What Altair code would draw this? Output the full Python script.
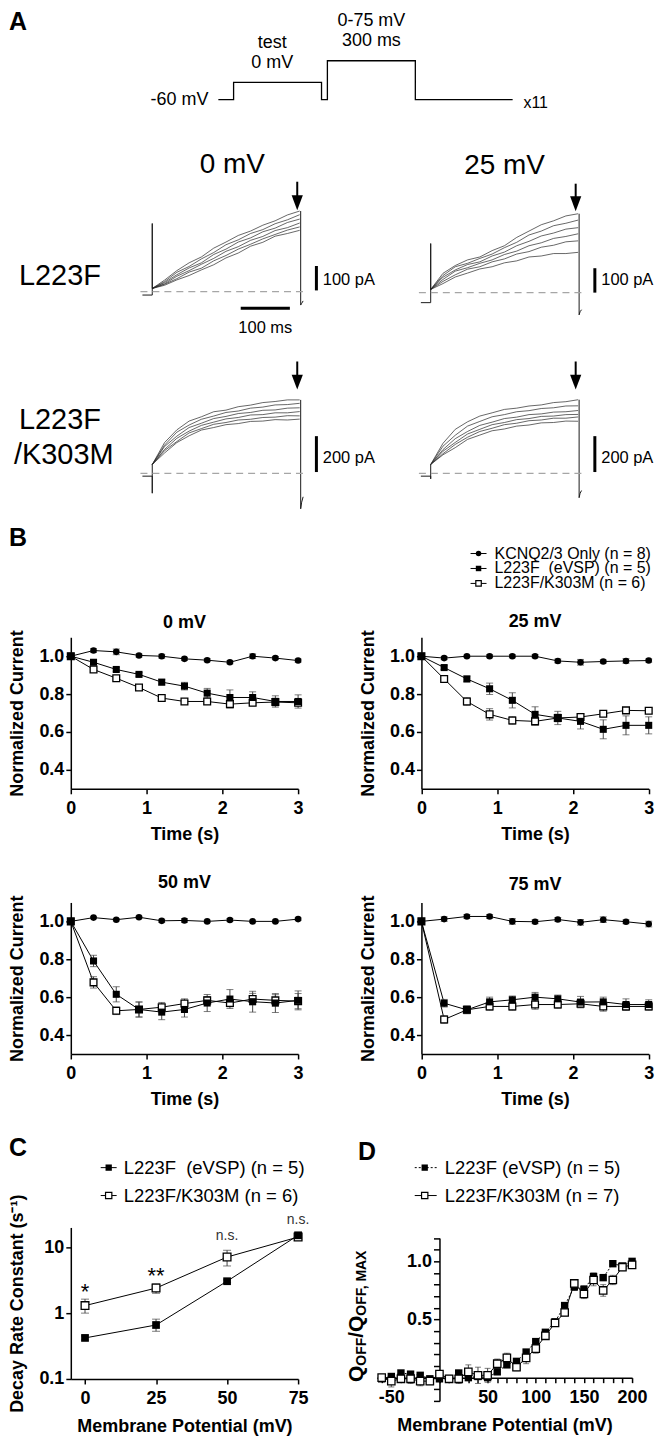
import altair as alt
import pandas as pd

FONT = "Liberation Sans"

# ---------------- Panel A: voltage protocol (schematic) ----------------
prot_time_ms = [0, 52, 52, 352, 352, 372, 372, 672, 672, 1004]
prot_mv = [-60, -60, 0, 0, -60, -60, 75, 75, -60, -60]

# ---------------- Panel A: current traces (pA) ----------------
trace_time_ms = [0, 25, 50, 75, 100, 125, 150, 175, 200, 225, 250, 275, 300]
traces_L223F_0mV = [
    [13, 47, 86, 118, 142, 178, 203, 230, 248, 272, 290, 314, 330],
    [13, 41, 79, 103, 134, 160, 192, 212, 238, 254, 278, 294, 315],
    [13, 37, 69, 97, 118, 152, 174, 203, 220, 245, 260, 283, 297],
    [13, 32, 63, 86, 112, 136, 165, 184, 210, 226, 250, 262, 281],
    [13, 30, 53, 80, 96, 126, 148, 174, 194, 216, 234, 252, 265],
    [13, 26, 48, 66, 89, 110, 138, 158, 186, 202, 227, 238, 251],
]
traces_L223F_25mV = [
    [13, 79, 111, 134, 146, 172, 192, 226, 252, 278, 294, 314, 323],
    [13, 70, 106, 120, 140, 158, 184, 206, 236, 252, 274, 284, 297],
    [13, 63, 93, 115, 126, 150, 166, 192, 210, 232, 244, 260, 266],
    [13, 54, 88, 102, 120, 134, 156, 170, 192, 204, 222, 230, 241],
    [13, 46, 73, 96, 106, 126, 138, 158, 168, 186, 194, 208, 212],
    [13, 37, 64, 80, 97, 106, 122, 130, 146, 150, 160, 160, 165],
]
traces_K303M_0mV = [
    [50, 172, 243, 292, 316, 344, 353, 372, 381, 395, 401, 410, 410],
    [50, 158, 230, 270, 302, 320, 340, 348, 364, 370, 382, 384, 391],
    [50, 150, 208, 256, 280, 306, 318, 334, 340, 352, 354, 364, 366],
    [50, 134, 196, 236, 268, 286, 304, 312, 326, 328, 338, 338, 345],
    [50, 127, 178, 226, 250, 274, 284, 298, 302, 312, 314, 322, 321],
    [50, 114, 172, 210, 242, 256, 272, 278, 290, 292, 300, 298, 303],
]
traces_K303M_25mV = [
    [50, 168, 246, 288, 320, 338, 357, 364, 376, 382, 395, 400, 411],
    [50, 152, 213, 264, 290, 316, 328, 344, 350, 362, 366, 376, 377],
    [50, 133, 194, 234, 268, 286, 306, 314, 328, 332, 342, 344, 351],
    [50, 124, 173, 220, 246, 272, 284, 300, 306, 318, 320, 328, 329],
    [50, 110, 162, 202, 234, 252, 272, 280, 294, 298, 308, 308, 315],
    [50, 104, 144, 190, 214, 238, 248, 264, 270, 282, 284, 292, 291],
]
# holding segment + capacitive transient, and tail current (t in ms, pA)
pre_t = [-20, 0, 0, 0]
pre_L0 = [-14, -14, 279, 13]
pre_L25 = [-41, -41, 201, 13]
pre_K0 = [-15, -15, -110, 50]
pre_K25 = [-15, -15, -30, 50]
tail_t = [302, 302, 304, 307]
tail_L0 = [330, -55, -48, -38]
tail_L25 = [323, -91, -78, -70]
tail_K0 = [410, -197, -160, -130]
tail_K25 = [411, -135, -110, -95]

# ---------------- Panel B: normalized current vs time ----------------
time_s = [0, 0.3, 0.6, 0.9, 1.2, 1.5, 1.8, 2.1, 2.4, 2.7, 3.0]
kcnq_0 = [1.0, 1.03, 1.023, 1.004, 1.0, 0.986, 0.979, 0.968, 1.0, 0.99, 0.977]
kcnq_0_err = [0, 0.01, 0.015, 0.008, 0.01, 0.008, 0.008, 0.008, 0.012, 0.008, 0.008]
l223f_0 = [1.0, 0.968, 0.93, 0.904, 0.863, 0.842, 0.805, 0.782, 0.782, 0.761, 0.761]
l223f_0_err = [0, 0.008, 0.01, 0.01, 0.015, 0.02, 0.025, 0.04, 0.03, 0.03, 0.035]
k303m_0 = [1.0, 0.93, 0.884, 0.835, 0.779, 0.761, 0.761, 0.747, 0.754, 0.758, 0.754]
k303m_0_err = [0, 0.008, 0.01, 0.012, 0.01, 0.01, 0.015, 0.02, 0.015, 0.02, 0.015]

kcnq_25 = [1.0, 0.99, 1.0, 1.0, 1.0, 1.0, 0.975, 0.968, 0.972, 0.975, 0.977]
kcnq_25_err = [0, 0.008, 0.005, 0.008, 0.008, 0.008, 0.01, 0.015, 0.008, 0.012, 0.008]
l223f_25 = [1.0, 0.94, 0.88, 0.828, 0.767, 0.693, 0.674, 0.656, 0.614, 0.635, 0.635]
l223f_25_err = [0, 0.01, 0.015, 0.03, 0.04, 0.04, 0.035, 0.04, 0.05, 0.05, 0.045]
k303m_25 = [1.0, 0.88, 0.761, 0.693, 0.661, 0.656, 0.674, 0.679, 0.696, 0.714, 0.712]
k303m_25_err = [0, 0.01, 0.02, 0.03, 0.02, 0.02, 0.02, 0.015, 0.015, 0.015, 0.015]

kcnq_50 = [1.0, 1.02, 1.009, 1.022, 1.003, 1.005, 1.0, 1.007, 1.0, 1.0, 1.012]
kcnq_50_err = [0, 0.005, 0.006, 0.005, 0.008, 0.01, 0.006, 0.008, 0.006, 0.006, 0.006]
l223f_50 = [1.0, 0.791, 0.615, 0.535, 0.521, 0.535, 0.569, 0.590, 0.576, 0.569, 0.583]
l223f_50_err = [0, 0.03, 0.04, 0.04, 0.04, 0.04, 0.045, 0.05, 0.055, 0.05, 0.05]
k303m_50 = [1.0, 0.678, 0.528, 0.535, 0.547, 0.566, 0.583, 0.569, 0.590, 0.583, 0.579]
k303m_50_err = [0, 0.03, 0.02, 0.04, 0.025, 0.025, 0.02, 0.02, 0.03, 0.03, 0.04]

kcnq_75 = [1.0, 1.012, 1.026, 1.026, 1.0, 0.998, 1.01, 0.995, 1.009, 0.998, 0.986]
kcnq_75_err = [0, 0.012, 0.01, 0.01, 0.015, 0.01, 0.01, 0.015, 0.015, 0.01, 0.015]
l223f_75 = [1.0, 0.568, 0.533, 0.575, 0.586, 0.6, 0.591, 0.574, 0.575, 0.561, 0.561]
l223f_75_err = [0, 0.02, 0.02, 0.025, 0.02, 0.025, 0.02, 0.03, 0.025, 0.03, 0.025]
k303m_75 = [1.0, 0.482, 0.533, 0.551, 0.551, 0.561, 0.561, 0.565, 0.551, 0.551, 0.551]
k303m_75_err = [0, 0.02, 0.02, 0.02, 0.02, 0.025, 0.02, 0.02, 0.025, 0.02, 0.02]

# ---------------- Panel C: decay rate constant ----------------
c_mv = [0, 25, 50, 75]
c_l223f = [0.42, 0.66, 3.05, 15.2]
c_l223f_lo = [0.39, 0.53, 2.9, 14.0]
c_l223f_hi = [0.45, 0.81, 3.2, 16.5]
c_k303m = [1.3, 2.4, 7.1, 14.3]
c_k303m_lo = [1.0, 2.0, 5.2, 13.3]
c_k303m_hi = [1.63, 2.78, 9.0, 15.3]
c_sig_label = ["*", "**", "n.s.", "n.s."]
c_sig_y = [2.1, 3.6, 14.7, 25.7]

# ---------------- Panel D: Q-V ----------------
d_mv = [-60, -50, -40, -30, -20, -10, 0, 10, 20, 30, 40, 50, 60, 70, 80, 90,
        100, 110, 120, 130, 140, 150, 160, 170, 180, 190, 200]
d_l223f = [-0.01, 0.01, 0.04, 0.03, 0.02, -0.01, -0.01, -0.01, 0.04, 0.0, 0.01, 0.0,
           0.05, 0.11, 0.14, 0.22, 0.31, 0.39, 0.48, 0.62, 0.78, 0.76, 0.87, 0.86, 0.98, 0.96, 1.0]
d_l223f_err = [0.01, 0.02, 0.02, 0.02, 0.02, 0.02, 0.02, 0.02, 0.02, 0.02, 0.02, 0.02, 0.02,
               0.02, 0.02, 0.02, 0.02, 0.02, 0.02, 0.02, 0.03, 0.03, 0.03, 0.02, 0.02, 0.02, 0.01]
d_k303m = [0.0, -0.03, -0.01, -0.01, -0.03, -0.03, 0.03, -0.01, -0.01, 0.05, 0.02, 0.02,
           0.12, 0.17, 0.09, 0.17, 0.25, 0.36, 0.47, 0.56, 0.81, 0.72, 0.84, 0.75, 0.84, 0.95, 0.97]
d_k303m_err = [0.02, 0.05, 0.03, 0.04, 0.04, 0.03, 0.03, 0.03, 0.04, 0.06, 0.07, 0.06, 0.04,
               0.04, 0.03, 0.05, 0.04, 0.03, 0.03, 0.03, 0.03, 0.04, 0.05, 0.05, 0.04, 0.03, 0.02]
d_x_ticks = [-60, -50, -40, -30, -20, -10, 0, 10, 20, 30, 40, 50, 60, 70, 80, 90, 100,
             110, 120, 130, 140, 150, 160, 170, 180, 190, 200]
d_y_ticks = [-0.2, -0.1, 0.0, 0.1, 0.2, 0.3, 0.4, 0.5, 0.6, 0.7, 0.8, 0.9, 1.0, 1.1, 1.2]

W, H = 647, 1428
ARROW = "M-0.75,-1L0.75,-1L0,1Z"


def dummy():
    return pd.DataFrame({"_": [0]})


def lin(domain, rng, **kw):
    return alt.Scale(domain=domain, range=rng, nice=False, zero=False, **kw)


def T(text, x, y, size, weight="normal", align="left", baseline="middle", angle=None, color="black"):
    props = dict(text=text, fontSize=size, fontWeight=weight, align=align,
                 baseline=baseline, color=color, font=FONT)
    if angle is not None:
        props["angle"] = angle
    return alt.Chart(dummy()).mark_text(**props).encode(x=alt.value(x), y=alt.value(y))


def legend_row(x1, x2, xm, y, shape, filled, xt, label, fs, size=40, dash=None):
    rp = dict(color="black", strokeWidth=1)
    if dash:
        rp["strokeDash"] = dash
    r = alt.Chart(dummy()).mark_rule(**rp).encode(x=alt.value(x1), x2=alt.value(x2), y=alt.value(y))
    if filled:
        p = alt.Chart(dummy()).mark_point(shape=shape, filled=True, color="black", size=size, opacity=1)
    else:
        p = alt.Chart(dummy()).mark_point(shape=shape, filled=True, fill="white", stroke="black",
                                          strokeWidth=1.2, size=size, opacity=1)
    p = p.encode(x=alt.value(xm), y=alt.value(y))
    return [r, p, T(label, xt, y, fs)]


# ================= Panel A: protocol =================
prot_df = pd.DataFrame({"t": prot_time_ms, "v": prot_mv, "k": list(range(len(prot_time_ms)))})
protocol = alt.Chart(prot_df).mark_line(color="black", strokeWidth=1.3).encode(
    x=alt.X("t:Q", scale=lin([0, 1004], [210, 505.2]), axis=None),
    y=alt.Y("v:Q", scale=lin([-60, 75], [87.7, 48.7]), axis=None),
    order="k:Q")
protocol_text = [
    T("A", 0, 10, 25, "bold"),
    T("-60 mV", 200, 88, 18, align="right"),
    T("test", 264, 30.5, 18, align="center"),
    T("0 mV", 264, 51, 18, align="center"),
    T("0-75 mV", 363.5, 8.5, 18, align="center"),
    T("300 ms", 363.5, 28.5, 18, align="center"),
    T("x11", 516, 91, 16),
]


# ================= Panel A: traces =================
def trace_panel(traces, pre_v, tail_v, xr, yr, bar_lo, bar_hi, bar_label, lab_v,
                arr_top, arr_head, time_bar=None):
    sx = lin([0, 300], xr)
    sy = lin([0, 400], yr)

    def X():
        return alt.X("t:Q", scale=sx, axis=None)

    def Y():
        return alt.Y("v:Q", scale=sy, axis=None)

    rows = [dict(id=i, k=k, t=t, v=v) for i, tr in enumerate(traces)
            for k, (t, v) in enumerate(zip(trace_time_ms, tr))]
    lines = alt.Chart(pd.DataFrame(rows)).mark_line(color="#262626", strokeWidth=0.7).encode(
        X(), Y(), detail="id:N", order="k:Q")
    fr = [dict(id="pre", k=k, t=t, v=v) for k, (t, v) in enumerate(zip(pre_t, pre_v))] + \
         [dict(id="tail", k=k, t=t, v=v) for k, (t, v) in enumerate(zip(tail_t, tail_v))]
    frame = alt.Chart(pd.DataFrame(fr)).mark_line(color="#1a1a1a", strokeWidth=1).encode(
        X(), Y(), detail="id:N", order="k:Q")
    base = alt.Chart(pd.DataFrame({"t": [-24], "t2": [312], "v": [0]})).mark_rule(
        color="#a6a6a6", strokeWidth=1.2, strokeDash=[7, 5]).encode(X(), alt.X2("t2:Q"), Y())
    sbar = alt.Chart(pd.DataFrame({"t": [334], "v": [bar_lo], "v2": [bar_hi]})).mark_rule(
        color="black", strokeWidth=3).encode(X(), Y(), alt.Y2("v2:Q"))
    stext = alt.Chart(pd.DataFrame({"t": [347], "v": [lab_v], "s": [bar_label]})).mark_text(
        align="left", baseline="middle", fontSize=16.5, font=FONT, color="black").encode(X(), Y(), text="s:N")
    shaft = alt.Chart(pd.DataFrame({"t": [295], "v": [arr_top], "v2": [arr_head]})).mark_rule(
        color="black", strokeWidth=2).encode(X(), Y(), alt.Y2("v2:Q"))
    head = alt.Chart(pd.DataFrame({"t": [295], "v": [arr_head]})).mark_point(
        shape=ARROW, filled=True, color="black", size=225, opacity=1).encode(X(), Y())
    layers = [lines, frame, base, sbar, stext, shaft, head]
    if time_bar is not None:
        t1, t2, yv, label_v = time_bar
        layers.append(alt.Chart(pd.DataFrame({"t": [t1], "t2": [t2], "v": [yv]})).mark_rule(
            color="black", strokeWidth=3).encode(X(), alt.X2("t2:Q"), Y()))
        layers.append(alt.Chart(pd.DataFrame({"t": [(t1 + t2) / 2], "v": [label_v], "s": ["100 ms"]})).mark_text(
            align="center", baseline="middle", fontSize=16.5, font=FONT, color="black").encode(X(), Y(), text="s:N"))
    return alt.layer(*layers)


a_l0 = trace_panel(traces_L223F_0mV, pre_L0, tail_L0, [143.7, 291.6], [280.3, 182.3],
                   5, 105, "100 pA", 47, 450, 364, time_bar=(180, 280, -68, -150))
a_l25 = trace_panel(traces_L223F_25mV, pre_L25, tail_L25, [423, 570.9], [281.3, 183.3],
                    0, 100, "100 pA", 50, 446, 364)
a_k0 = trace_panel(traces_K303M_0mV, pre_K0, tail_K0, [143.7, 291.6], [462.7, 390.7],
                   8, 208, "200 pA", 87, 624, 509)
a_k25 = trace_panel(traces_K303M_25mV, pre_K25, tail_K25, [423, 570.9], [462.7, 390.7],
                    8, 208, "200 pA", 87, 624, 509)
trace_text = [
    T("0 mV", 224, 153, 28, align="center"),
    T("25 mV", 497, 154, 28, align="center"),
    T("L223F", 10, 264.5, 29),
    T("L223F", 10, 409.5, 29),
    T("/K303M", 5, 444.5, 29),
]

# ================= Panel B header / legend =================
b_header = [
    T("B", 0, 527, 25, "bold"),
    *legend_row(463, 479, 471, 543, "circle", True, 487, "KCNQ2/3 Only (n = 8)", 16, size=30),
    *legend_row(463, 479, 471, 558, "square", True, 487, "L223F\u00a0 (eVSP) (n = 5)", 16, size=30),
    *legend_row(463, 479, 471, 573, "square", False, 487, "L223F/K303M (n = 6)", 16, size=30),
]


# ================= Panel B plots =================
def b_panel(title, xr, yr, title_y, kc, kce, lf, lfe, km, kme):
    rows = []
    for s, vals, errs in [("KCNQ", kc, kce), ("L223F", lf, lfe), ("K303M", km, kme)]:
        for t, v, e in zip(time_s, vals, errs):
            rows.append(dict(s=s, t=t, v=v, lo=v - e, hi=v + e, e=e))
    df = pd.DataFrame(rows)
    sx = lin([0, 3], xr)
    sy = lin([0.3, 1.1], yr)
    ax = alt.Axis(orient="bottom", offset=yr[0] - H, values=[0, 1, 2, 3], format="d", title="Time (s)")
    ay = alt.Axis(orient="left", offset=-xr[0], values=[0.4, 0.6, 0.8, 1.0], format=".1f",
                  title="Normalized Current")

    def X():
        return alt.X("t:Q", scale=sx, axis=ax)

    def Y(f="v"):
        return alt.Y(f"{f}:Q", scale=sy, axis=ay)

    base = alt.Chart(df)
    eb = base.transform_filter("datum.e > 0")
    layers = [
        base.mark_line(color="black", strokeWidth=1).encode(X(), Y(), detail="s:N"),
        eb.mark_rule(color="#444444", strokeWidth=1).encode(X(), Y("lo"), alt.Y2("hi:Q")),
        eb.mark_tick(orient="horizontal", size=7, thickness=1, color="#444444").encode(X(), Y("lo")),
        eb.mark_tick(orient="horizontal", size=7, thickness=1, color="#444444").encode(X(), Y("hi")),
        base.transform_filter("datum.s == 'KCNQ'").mark_point(
            shape="circle", filled=True, color="black", size=44, opacity=1).encode(X(), Y()),
        base.transform_filter("datum.s == 'K303M'").mark_point(
            shape="square", filled=True, fill="white", stroke="black", strokeWidth=1.3, size=46,
            opacity=1).encode(X(), Y()),
        base.transform_filter("datum.s == 'L223F'").mark_point(
            shape="square", filled=True, color="black", size=50, opacity=1).encode(X(), Y()),
    ]
    return alt.layer(*layers), T(title, (xr[0] + xr[1]) / 2, title_y, 18, "bold", align="center")


b1, b1t = b_panel("0 mV", [62, 290], [779, 627], 613, kcnq_0, kcnq_0_err, l223f_0, l223f_0_err,
                  k303m_0, k303m_0_err)
b2, b2t = b_panel("25 mV", [413.7, 641.7], [779, 627], 612, kcnq_25, kcnq_25_err, l223f_25,
                  l223f_25_err, k303m_25, k303m_25_err)
b3, b3t = b_panel("50 mV", [62, 290], [1045, 893], 874, kcnq_50, kcnq_50_err, l223f_50, l223f_50_err,
                  k303m_50, k303m_50_err)
b4, b4t = b_panel("75 mV", [413.7, 641.7], [1045, 893], 876, kcnq_75, kcnq_75_err, l223f_75,
                  l223f_75_err, k303m_75, k303m_75_err)

# ================= Panel C =================
c_rows = []
for s, v, lo, hi in [("L223F", c_l223f, c_l223f_lo, c_l223f_hi), ("K303M", c_k303m, c_k303m_lo, c_k303m_hi)]:
    for mv, a, b, c in zip(c_mv, v, lo, hi):
        c_rows.append(dict(s=s, mv=mv, v=a, lo=b, hi=c))
c_df = pd.DataFrame(c_rows)
c_sx = lin([-5, 75], [62, 290])
c_sy = alt.Scale(type="log", domain=[0.1, 20], range=[1371, 1219], nice=False)
c_ax = alt.Axis(orient="bottom", offset=1371 - H, values=[0, 25, 50, 75], format="d",
                title="Membrane Potential (mV)", titlePadding=10)
c_ay = alt.Axis(orient="left", offset=-62, values=[0.1, 1, 10], format="~g",
                title="Decay Rate Constant (s\u207b\u00b9)")


def CX():
    return alt.X("mv:Q", scale=c_sx, axis=c_ax)


def CY(f="v"):
    return alt.Y(f"{f}:Q", scale=c_sy, axis=c_ay)


c_base = alt.Chart(c_df)
sig_df = pd.DataFrame({"mv": c_mv, "v": c_sig_y, "s": c_sig_label})
panel_c = alt.layer(
    c_base.mark_line(color="black", strokeWidth=1).encode(CX(), CY(), detail="s:N"),
    c_base.mark_rule(color="#444444", strokeWidth=1).encode(CX(), CY("lo"), alt.Y2("hi:Q")),
    c_base.mark_tick(orient="horizontal", size=8, thickness=1, color="#444444").encode(CX(), CY("lo")),
    c_base.mark_tick(orient="horizontal", size=8, thickness=1, color="#444444").encode(CX(), CY("hi")),
    c_base.transform_filter("datum.s == 'K303M'").mark_point(
        shape="square", filled=True, fill="white", stroke="black", strokeWidth=1.3, size=60,
        opacity=1).encode(CX(), CY()),
    c_base.transform_filter("datum.s == 'L223F'").mark_point(
        shape="square", filled=True, color="black", size=60, opacity=1).encode(CX(), CY()),
    alt.Chart(sig_df).transform_filter("datum.s != 'n.s.'").mark_text(
        fontSize=22, font=FONT, color="black", baseline="middle").encode(CX(), CY(), text="s:N"),
    alt.Chart(sig_df).transform_filter("datum.s == 'n.s.'").mark_text(
        fontSize=14, font=FONT, color="#333333", baseline="middle").encode(CX(), CY(), text="s:N"),
)
c_text = [
    T("C", 0, 1139.5, 25, "bold"),
    *legend_row(92, 108, 100, 1159, "square", True, 115, "L223F\u00a0 (eVSP) (n = 5)", 18.5, size=40),
    *legend_row(92, 108, 100, 1187, "square", False, 115, "L223F/K303M (n = 6)", 18.5, size=40),
]

# ================= Panel D =================
d_rows = []
for s, v, e in [("L223F", d_l223f, d_l223f_err), ("K303M", d_k303m, d_k303m_err)]:
    for mv, a, b in zip(d_mv, v, e):
        d_rows.append(dict(s=s, mv=mv, v=a, lo=a - b, hi=a + b))
d_df = pd.DataFrame(d_rows)
d_sx = lin([-65, 200], [369, 625])
d_sy = lin([-0.2, 1.2], [1393, 1229.7])
d_ax = alt.Axis(orient="bottom", values=d_x_ticks, offset=1369.7 - H, title="Membrane Potential (mV)",
                titlePadding=10,
                labelExpr="(datum.value % 50 == 0 && datum.value != 0) ? ('' + datum.value) : ''")
d_ay = alt.Axis(orient="left", values=d_y_ticks, offset=-431.8, title=None, tickSize=6,
                labelExpr="(abs(datum.value - 0.5) < 0.001 || abs(datum.value - 1) < 0.001) ? format(datum.value, '.1f') : ''")


def DX():
    return alt.X("mv:Q", scale=d_sx, axis=d_ax)


def DY(f="v"):
    return alt.Y(f"{f}:Q", scale=d_sy, axis=d_ay)


d_base = alt.Chart(d_df)
panel_d = alt.layer(
    d_base.transform_filter("datum.s == 'K303M'").mark_line(color="black", strokeWidth=1).encode(DX(), DY()),
    d_base.transform_filter("datum.s == 'L223F'").mark_line(
        color="black", strokeWidth=1, strokeDash=[2, 2]).encode(DX(), DY()),
    d_base.mark_rule(color="#444444", strokeWidth=1).encode(DX(), DY("lo"), alt.Y2("hi:Q")),
    d_base.mark_tick(orient="horizontal", size=6, thickness=1, color="#444444").encode(DX(), DY("lo")),
    d_base.mark_tick(orient="horizontal", size=6, thickness=1, color="#444444").encode(DX(), DY("hi")),
    d_base.transform_filter("datum.s == 'L223F'").mark_point(
        shape="square", filled=True, color="black", size=55, opacity=1).encode(DX(), DY()),
    d_base.transform_filter("datum.s == 'K303M'").mark_point(
        shape="square", filled=True, fill="white", stroke="black", strokeWidth=1.3, size=55,
        opacity=1).encode(DX(), DY()),
)
d_text = [
    T("D", 350, 1143.5, 25, "bold"),
    *legend_row(407, 429, 417, 1159, "square", True, 437, "L223F (eVSP) (n = 5)", 18.5, size=40, dash=[2, 2]),
    *legend_row(407, 429, 417, 1187, "square", False, 437, "L223F/K303M (n = 7)", 18.5, size=40),
    T("Q", 355, 1374, 21, "bold", baseline="alphabetic", angle=270),
    T("OFF", 358, 1357.7, 14, "bold", baseline="alphabetic", angle=270),
    T("/Q", 355, 1329.7, 21, "bold", baseline="alphabetic", angle=270),
    T("OFF, MAX", 358, 1307.5, 14, "bold", baseline="alphabetic", angle=270),
]

# ================= assemble =================
panels = [protocol, a_l0, a_l25, a_k0, a_k25, b1, b2, b3, b4, panel_c, panel_d]
texts = protocol_text + trace_text + b_header + [b1t, b2t, b3t, b4t] + c_text + d_text

chart = alt.layer(*panels, *texts).resolve_scale(
    x="independent", y="independent"
).properties(
    width=W, height=H, padding=0, background="white"
).configure_view(stroke=None).configure_axis(
    labelFont=FONT, titleFont=FONT, labelFontSize=18, titleFontSize=18,
    labelFontWeight="bold", titleFontWeight="bold", labelColor="black", titleColor="black",
    domainColor="black", tickColor="black", domainWidth=1.5, tickWidth=1.5, tickSize=5,
    grid=False, labelFlush=False, labelOverlap=False
).configure_axisBottom(labelPadding=6, titlePadding=8).configure_axisLeft(
    labelPadding=2, titlePadding=12)

chart.save("out.html", embed_options={"renderer": "svg", "actions": False})
